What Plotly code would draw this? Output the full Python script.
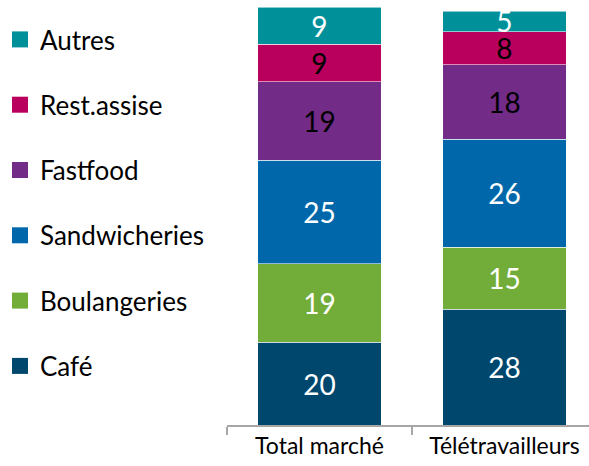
import plotly.graph_objects as go

categories = ["Total marché", "Télétravailleurs"]
series_names = ["Café", "Boulangeries", "Sandwicheries", "Fastfood", "Rest.assise", "Autres"]
cafe = [20, 28]
boulangeries = [19, 15]
sandwicheries = [25, 26]
fastfood = [19, 18]
rest_assise = [9, 8]
autres = [9, 5]
values = [cafe, boulangeries, sandwicheries, fastfood, rest_assise, autres]
colors = ["#00476E", "#72AD3A", "#0068AA", "#722B87", "#B8005C", "#00909A"]
text_colors = ["white", "white", "white", "black", "black", "white"]

FONT = "Lato"
fig = go.Figure()
for name, vals, col, tc in zip(series_names, values, colors, text_colors):
    fig.add_trace(go.Bar(
        x=categories, y=vals, name=name,
        marker=dict(color=col, line=dict(color="rgba(255,255,255,0.55)", width=1)),
        text=[str(v) for v in vals], textposition="inside", insidetextanchor="middle",
        textangle=0, textfont=dict(color=tc, size=28, family=FONT),
        width=0.67, showlegend=False, hoverinfo="skip",
    ))
# legend entries (square markers), top entry first
for name, col in reversed(list(zip(series_names, colors))):
    fig.add_trace(go.Scatter(
        x=[None], y=[None], mode="markers", name=name,
        marker=dict(symbol="square", size=16, color=col),
        legendgroup=name, showlegend=True,
    ))

fig.update_layout(
    width=589, height=466,
    barmode="stack",
    plot_bgcolor="white", paper_bgcolor="white",
    margin=dict(l=227, r=0, t=7, b=41, autoexpand=False),
    font=dict(family=FONT, color="black"),
    uniformtext=dict(minsize=28, mode="show"),
    legend=dict(
        xref="container", yref="container", x=0.0, y=1 - 16 / 466,
        xanchor="left", yanchor="top",
        traceorder="grouped", tracegroupgap=28.5,
        font=dict(size=26, family=FONT, color="black"),
        itemsizing="trace", itemwidth=30, maxheight=1,
        bgcolor="rgba(0,0,0,0)",
    ),
    xaxis=dict(
        range=[-0.5, 1.457], tickson="boundaries", ticks="outside", ticklen=8,
        tickcolor="#A6A6A6", tickwidth=1.5,
        showline=True, linecolor="#A6A6A6", linewidth=1.5,
        tickfont=dict(size=23, family=FONT, color="black"),
        showgrid=False, fixedrange=True,
    ),
    yaxis=dict(range=[0, 101], visible=False, showgrid=False, fixedrange=True),
)

fig.write_html("out.html", config={"displayModeBar": False},
               post_script="document.body.style.margin='0';")
